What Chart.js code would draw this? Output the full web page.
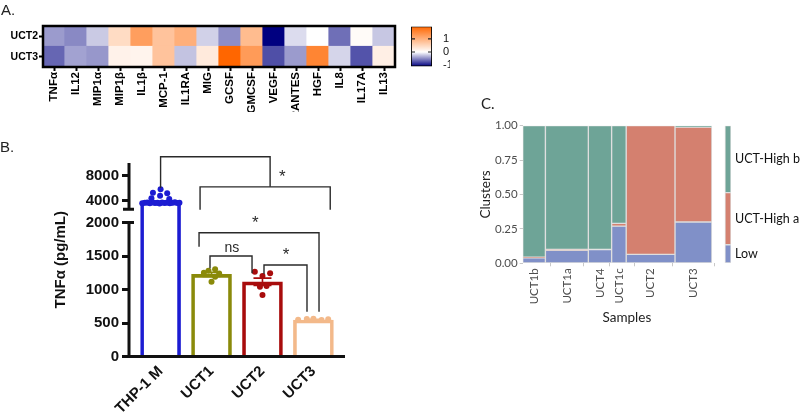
<!DOCTYPE html>
<html>
<head>
<meta charset="utf-8">
<title>TNF and cytokine profiles</title>
<script src="https://cdn.jsdelivr.net/npm/chart.js@4.4.1/dist/chart.umd.min.js"></script>
<style>
  html, body { margin: 0; padding: 0; background: #fff; }
  body { position: relative; width: 800px; height: 416px; overflow: hidden; font-family: "Liberation Sans", Arial, sans-serif; }
  canvas, .tag { position: absolute; }
  .tag { font-size: 15px; color: #222; }
</style>
</head>
<body>
<canvas id="heatmap" width="405" height="112" style="left:0;top:0"></canvas>
<canvas id="scaleBar" width="50" height="66" style="left:400px;top:10px"></canvas>
<canvas id="tnf" width="330" height="276" style="left:40px;top:140px"></canvas>
<canvas id="mosaic" width="322" height="214" style="left:478px;top:112px"></canvas>
<div class="tag" style="left:1px;top:1px">A.</div>
<div class="tag" style="left:0;top:138px">B.</div>
<div class="tag" style="left:481px;top:94px;font-family:Lato">C.</div>

<script>
// --- A: cytokine heatmap (z-scores)
const cytokines = ['TNFα', 'IL12', 'MIP1α', 'MIP1β', 'IL1β', 'MCP-1', 'IL1RA', 'MIG',
  'GCSF', 'GMCSF', 'VEGF', 'RANTES', 'HGF', 'IL8', 'IL17A', 'IL13'];
const heatRows = ['UCT3', 'UCT2'];
const uct2Scores = [-0.43, -0.51, -0.23, 0.45, 1.23, 0.76, 1.02, -0.2, -0.49, 0.86, -1.1, -0.15, 0, -0.62, 0.05, -0.24];
const uct3Scores = [-0.66, -0.4, -0.45, 0.16, 0.14, 0.76, -0.26, 0.27, 1.95, 1.28, -0.76, -0.43, 1.56, -0.18, -0.74, 0.2];
const scoreRange = [-1.1, 1.95];
const scoreTicks = [-1, 0, 1];

// --- B: TNFa secretion
const tnfGroups = ['THP-1 M', 'UCT1', 'UCT2', 'UCT3'];
const tnfMeans = [3800, 1225, 1115, 545];
const tnfSem = [110, 30, 55, 10];
const tnfPoints = [
  [3600, 3650, 3700, 3580, 3750, 3620, 3680, 3560, 3720, 3640, 3700, 3590, 3660, 3740, 3610, 3680,
   4370, 4260, 4790, 5270, 5170, 5810],
  [1251, 1281, 1302, 1117, 1191, 1240],
  [1266, 1202, 1242, 1042, 1053, 918],
  [550, 560, 565, 545, 555]
];
const tnfJitter = [
  [-0.36, -0.31, -0.26, -0.21, -0.16, -0.11, -0.06, -0.02, 0.03, 0.08, 0.13, 0.18, 0.23, 0.28, 0.33, 0.37,
   -0.18, 0.17, -0.01, -0.15, 0.13, 0],
  [-0.15, -0.06, 0.07, 0, 0.07, 0.15],
  [-0.15, 0, 0.15, -0.05, 0.08, 0],
  [-0.3, -0.13, 0, 0.16, 0.29]
];
const tnfTicks = [0, 500, 1000, 1500, 2000, 4000, 8000];
const tnfAxisBreak = [2000, 2620];
// value -> share of axis height, the gap sits between the two break values
const tnfAxisMap = [[0, 0], [2000, 0.6925], [2620, 0.7607], [10000, 1]];
const sigBrackets = [
  { from: 0, to: 2.15, top: 11000, leftEnd: 6000, rightEnd: 6200, label: '', labelX: 0 },
  { from: 0.775, to: 3.33, top: 6200, leftEnd: 2600, rightEnd: 2600, label: '*', labelX: 2.39 },
  { from: 0.755, to: 3.11, top: 1848, leftEnd: 1639, rightEnd: 669, label: '*', labelX: 1.86 },
  { from: 0.97, to: 1.795, top: 1500, leftEnd: 1317, rightEnd: 1242, label: 'ns', labelX: 1.4 },
  { from: 2.03, to: 2.874, top: 1366, leftEnd: 1232, rightEnd: 669, label: '*', labelX: 2.465 }
];

// --- C: cluster share per sample (mosaic)
const samples = ['UCT1b', 'UCT1a', 'UCT4', 'UCT1c', 'UCT2', 'UCT3'];
const sampleShare = [0.12, 0.227, 0.123, 0.077, 0.258, 0.195];
const clusters = ['Low', 'UCT-High a', 'UCT-High b'];
const lowShare = [0.04, 0.095, 0.1, 0.27, 0.065, 0.3];
const highAShare = [0.005, 0.005, 0, 0.02, 0.935, 0.69];
const highBShare = [0.955, 0.9, 0.9, 0.71, 0, 0.01];
const clusterTicks = [0, 0.25, 0.5, 0.75, 1];

const groupColors = ['#1c1cd2', '#8a8a0a', '#a80c0c', '#f3b98a'];
const clusterColors = ['#8090c8', '#d4806f', '#6ea497'];

Chart.defaults.font.family = '"Liberation Sans", Arial, sans-serif';

const hot = [255, 102, 0], cold = [0, 0, 128];
function scoreColor(v) {
  const end = v >= 0 ? hot : cold;
  const t = Math.min(1, v >= 0 ? v / scoreRange[1] : v / scoreRange[0]);
  const c = end.map(e => Math.round(255 + (e - 255) * t));
  return 'rgb(' + c.join(',') + ')';
}

const heavyFrame = {
  id: 'heavyFrame',
  afterDatasetsDraw(chart) {
    const { ctx, chartArea: a } = chart;
    ctx.save();
    ctx.lineWidth = 2.5;
    ctx.strokeStyle = '#000';
    ctx.strokeRect(a.left, a.top, a.right - a.left, a.bottom - a.top);
    ctx.restore();
  }
};

const boldSmall = { weight: 'bold', size: 11.5 };
new Chart(document.getElementById('heatmap'), {
  type: 'bar',
  data: {
    labels: cytokines,
    datasets: [
      { label: 'UCT3', data: uct3Scores.map(() => 1), backgroundColor: uct3Scores.map(scoreColor) },
      { label: 'UCT2', data: uct2Scores.map(() => 1), backgroundColor: uct2Scores.map(scoreColor) }
    ]
  },
  options: {
    responsive: false, animation: false, devicePixelRatio: 1, events: [],
    layout: { padding: { top: 26, right: 10 } },
    datasets: { bar: { barPercentage: 1, categoryPercentage: 1, borderWidth: 0, inflateAmount: 0.6 } },
    plugins: { legend: { display: false }, tooltip: { enabled: false } },
    scales: {
      x: {
        stacked: true, border: { display: false },
        grid: { offset: false, drawOnChartArea: false, tickLength: 4, tickWidth: 2, tickColor: '#000' },
        ticks: { autoSkip: false, minRotation: 90, maxRotation: 90, padding: 1, color: '#000', font: boldSmall },
        afterFit: s => { s.height = 45; }
      },
      y: {
        stacked: true, min: 0, max: 2, border: { display: false },
        grid: { drawOnChartArea: false, tickLength: 4, tickWidth: 2, tickColor: '#000' },
        afterBuildTicks: s => { s.ticks = heatRows.map((r, i) => ({ value: i + 0.5 })); },
        ticks: { padding: 1, color: '#000', font: { weight: 'bold', size: 10.5 }, callback: (v, i) => heatRows[i] },
        afterFit: s => { s.width = 43; }
      }
    }
  },
  plugins: [heavyFrame]
});

// colour key next to the heatmap
function scoreGradient(chart) {
  const { ctx, chartArea, scales } = chart;
  if (!chartArea || !scales.y) return '#fff';
  const y0 = scales.y.getPixelForValue(scoreRange[0]);
  const y1 = scales.y.getPixelForValue(scoreRange[1]);
  const g = ctx.createLinearGradient(0, y0, 0, y1);
  g.addColorStop(0, scoreColor(scoreRange[0]));
  g.addColorStop(-scoreRange[0] / (scoreRange[1] - scoreRange[0]), scoreColor(0));
  g.addColorStop(1, scoreColor(scoreRange[1]));
  return g;
}

const keyTicks = {
  id: 'keyTicks',
  afterDatasetsDraw(chart) {
    const { ctx, chartArea: a, scales: { y } } = chart;
    ctx.save();
    ctx.strokeStyle = '#222';
    ctx.lineWidth = 1.2;
    scoreTicks.slice(1).forEach(v => {
      const py = y.getPixelForValue(v);
      ctx.beginPath();
      ctx.moveTo(a.left, py); ctx.lineTo(a.left + 4, py);
      ctx.moveTo(a.right - 4, py); ctx.lineTo(a.right, py);
      ctx.stroke();
    });
    ctx.restore();
  }
};

new Chart(document.getElementById('scaleBar'), {
  type: 'bar',
  data: {
    labels: ['z'],
    datasets: [{
      data: [scoreRange], backgroundColor: c => scoreGradient(c.chart),
      borderColor: '#000', borderWidth: 1.2, borderSkipped: false,
      barPercentage: 1, categoryPercentage: 1
    }]
  },
  options: {
    responsive: false, animation: false, devicePixelRatio: 1, events: [],
    layout: { padding: { top: 16.5, left: 11, bottom: 8 } },
    plugins: { legend: { display: false }, tooltip: { enabled: false } },
    scales: {
      x: { display: false },
      y: {
        position: 'right', min: scoreRange[0], max: scoreRange[1],
        border: { display: false }, grid: { display: false },
        afterBuildTicks: s => { s.ticks = scoreTicks.map(v => ({ value: v })); },
        ticks: { padding: 3, color: '#111', font: { size: 11 } },
        afterFit: s => { s.width = 18; }
      }
    }
  },
  plugins: [keyTicks]
});

// y axis with a break between 2000 and the upper block
class BrokenLinearScale extends Chart.LinearScale {
  toShare(v) {
    const m = tnfAxisMap;
    let i = 1;
    while (i < m.length - 1 && v > m[i][0]) i++;
    const [v0, f0] = m[i - 1], [v1, f1] = m[i];
    return f0 + (v - v0) / (v1 - v0) * (f1 - f0);
  }
  getPixelForValue(v) {
    if (v === null || isNaN(v)) return NaN;
    return this.getPixelForDecimal(this.toShare(v));
  }
  getValueForPixel(p) {
    const d = this.getDecimalForPixel(p);
    const m = tnfAxisMap;
    let i = 1;
    while (i < m.length - 1 && d > m[i][1]) i++;
    const [v0, f0] = m[i - 1], [v1, f1] = m[i];
    return v0 + (d - f0) / (f1 - f0) * (v1 - v0);
  }
}
BrokenLinearScale.id = 'brokenLinear';
BrokenLinearScale.defaults = {};
Chart.register(BrokenLinearScale);

const brokenAxisLines = {
  id: 'brokenAxisLines',
  afterDatasetsDraw(chart) {
    const { ctx, chartArea: a, scales: { y } } = chart;
    const lowTop = y.getPixelForValue(tnfAxisBreak[0]);
    const highBottom = y.getPixelForValue(tnfAxisBreak[1]);
    ctx.save();
    ctx.strokeStyle = '#111';
    ctx.lineWidth = 3;
    ctx.beginPath();
    ctx.moveTo(a.left, a.top); ctx.lineTo(a.left, highBottom);
    ctx.moveTo(a.left, lowTop); ctx.lineTo(a.left, a.bottom + 1.5);
    ctx.moveTo(a.left - 1.5, a.bottom); ctx.lineTo(a.right, a.bottom);
    ctx.moveTo(a.left - 6, highBottom); ctx.lineTo(a.left + 5, highBottom);
    ctx.moveTo(a.left, lowTop); ctx.lineTo(a.left + 5, lowTop);
    ctx.stroke();
    ctx.restore();
  }
};

const errorBars = {
  id: 'errorBars',
  afterDatasetsDraw(chart) {
    const { ctx, scales: { x, y } } = chart;
    ctx.save();
    ctx.lineWidth = 1.6;
    tnfMeans.forEach((m, i) => {
      const cx = x.getPixelForValue(i);
      const hi = y.getPixelForValue(m + tnfSem[i]);
      const lo = y.getPixelForValue(m - tnfSem[i]);
      ctx.strokeStyle = groupColors[i];
      ctx.beginPath();
      ctx.moveTo(cx, hi); ctx.lineTo(cx, lo);
      ctx.moveTo(cx - 9, hi); ctx.lineTo(cx + 9, hi);
      ctx.moveTo(cx - 9, lo); ctx.lineTo(cx + 9, lo);
      ctx.stroke();
    });
    ctx.restore();
  }
};

const significance = {
  id: 'significance',
  afterDraw(chart) {
    const { ctx, scales: { x, y } } = chart;
    ctx.save();
    ctx.strokeStyle = '#2a2a2a';
    ctx.fillStyle = '#2a2a2a';
    ctx.lineWidth = 1.4;
    sigBrackets.forEach(b => {
      const x1 = x.getPixelForValue(b.from), x2 = x.getPixelForValue(b.to);
      const yt = y.getPixelForValue(b.top);
      ctx.beginPath();
      ctx.moveTo(x1, y.getPixelForValue(b.leftEnd));
      ctx.lineTo(x1, yt);
      ctx.lineTo(x2, yt);
      ctx.lineTo(x2, y.getPixelForValue(b.rightEnd));
      ctx.stroke();
      if (b.label) {
        ctx.font = (b.label === '*' ? '17px' : '14px') + ' "Liberation Sans"';
        ctx.textAlign = 'center';
        ctx.textBaseline = 'bottom';
        ctx.fillText(b.label, x.getPixelForValue(b.labelX), yt - 1);
      }
    });
    ctx.restore();
  }
};

const dotData = [], dotColors = [];
tnfPoints.forEach((vals, g) => vals.forEach((v, k) => {
  dotData.push({ x: g + tnfJitter[g][k], y: v });
  dotColors.push(groupColors[g]);
}));

const boldB = { weight: 'bold', size: 15 };
new Chart(document.getElementById('tnf'), {
  type: 'bar',
  data: {
    datasets: [
      {
        type: 'bar', data: tnfMeans.map((m, i) => ({ x: i, y: m })),
        backgroundColor: 'rgba(255,255,255,0)', borderColor: groupColors,
        borderWidth: 3, barThickness: 40, borderSkipped: 'bottom', order: 2
      },
      {
        type: 'scatter', data: dotData, pointBackgroundColor: dotColors,
        pointBorderWidth: 0, pointRadius: 3, order: 1
      }
    ]
  },
  options: {
    responsive: false, animation: false, devicePixelRatio: 1, events: [],
    layout: { padding: { top: 23, left: 12, right: 25 } },
    plugins: { legend: { display: false }, tooltip: { enabled: false } },
    scales: {
      x: {
        type: 'linear', offset: false, min: -0.62, max: 3.62,
        border: { display: false }, grid: { display: false, drawTicks: false },
        afterBuildTicks: s => { s.ticks = tnfGroups.map((g, i) => ({ value: i })); },
        ticks: { autoSkip: false, minRotation: 45, maxRotation: 45, padding: 6, color: '#111', font: boldB,
                 callback: (v, i) => tnfGroups[i] },
        afterFit: s => { s.height = 59.5; }
      },
      y: {
        type: 'brokenLinear', min: 0, max: 10000, border: { display: false },
        grid: { drawOnChartArea: false, tickLength: 7, tickWidth: 3, tickColor: '#111' },
        afterBuildTicks: s => { s.ticks = tnfTicks.map(v => ({ value: v })); },
        ticks: { autoSkip: false, padding: 3, color: '#111', font: boldB, callback: v => String(v) },
        title: { display: true, text: 'TNFα (pg/mL)', color: '#111', font: { weight: 'bold', size: 15 },
                 padding: { top: 0, bottom: 4 } },
        afterFit: s => { s.width = 77; }
      }
    }
  },
  plugins: [brokenAxisLines, errorBars, significance]
});

// mosaic: column width = sample share, stacked heights = cluster share
const clusterShares = [lowShare, highAShare, highBShare];
const sampleMid = [];
sampleShare.reduce((start, w) => { sampleMid.push(start + w / 2); return start + w; }, 0);
const overallShare = clusterShares.map(s => s.reduce((acc, v, i) => acc + v * sampleShare[i], 0));
const legendMid = [];
overallShare.reduce((start, h) => { legendMid.push(start + h / 2); return start + h; }, 0);
const legendX = 1.085, legendWidth = 0.032;

function spanPx(chart, w) {
  const xs = chart.scales.x;
  if (!xs) return 1;
  const px = Math.abs(xs.getPixelForValue(w) - xs.getPixelForValue(0));
  return isFinite(px) && px > 0 ? px : 1;
}

function stackColumn(heights, center, width, label) {
  let base = 0;
  const data = [], colors = [];
  heights.forEach((h, c) => {
    if (h > 0) {
      data.push({ x: center, y: [base, base + h] });
      colors.push(clusterColors[c]);
    }
    base += h;
  });
  return { label, data, backgroundColor: colors, barThickness: ctx => spanPx(ctx.chart, width) };
}

const mosaicSets = samples.map((s, i) =>
  stackColumn(clusterShares.map(share => share[i]), sampleMid[i], sampleShare[i], s));
mosaicSets.push(stackColumn(overallShare, legendX, legendWidth, 'all'));

const lato = (size) => ({ family: 'Lato', size });
new Chart(document.getElementById('mosaic'), {
  type: 'bar',
  data: { datasets: mosaicSets },
  options: {
    responsive: false, animation: false, devicePixelRatio: 1, events: [],
    layout: { padding: { top: 13.7 } },
    datasets: { bar: { grouped: false, borderWidth: 1, borderColor: '#dedede', borderSkipped: false } },
    plugins: { legend: { display: false }, tooltip: { enabled: false } },
    scales: {
      x: {
        type: 'linear', offset: false, min: 0, max: legendX + legendWidth / 2, border: { display: false },
        grid: { drawOnChartArea: false, tickLength: 3, color: '#c8c8c8' },
        afterBuildTicks: s => { s.ticks = sampleMid.map(v => ({ value: v })); },
        ticks: { autoSkip: false, minRotation: 90, maxRotation: 90, padding: 2, color: '#4d4d4d',
                 font: lato(11.5), callback: (v, i) => samples[i] },
        title: { display: true, text: 'Samples', color: '#222', font: lato(13.5), padding: { top: 2, bottom: 0 } },
        afterFit: s => { s.height = 62.7; }
      },
      y: {
        min: 0, max: 1, border: { display: false },
        grid: { drawOnChartArea: false, tickLength: 3, color: '#c8c8c8' },
        afterBuildTicks: s => { s.ticks = clusterTicks.map(v => ({ value: v })); },
        ticks: { padding: 2, color: '#4d4d4d', font: lato(11.5), callback: v => v.toFixed(2) },
        title: { display: true, text: 'Clusters', color: '#222', font: lato(13.5), padding: { top: 0, bottom: 2 } },
        afterFit: s => { s.width = 44.7; }
      },
      y2: {
        position: 'right', min: 0, max: 1, border: { display: false },
        grid: { display: false, drawTicks: false },
        afterBuildTicks: s => { s.ticks = legendMid.map(v => ({ value: v })); },
        ticks: { padding: 4, color: '#111', font: lato(12.5), callback: (v, i) => clusters[i] },
        afterFit: s => { s.width = 69; }
      }
    }
  }
});
</script>
</body>
</html>
